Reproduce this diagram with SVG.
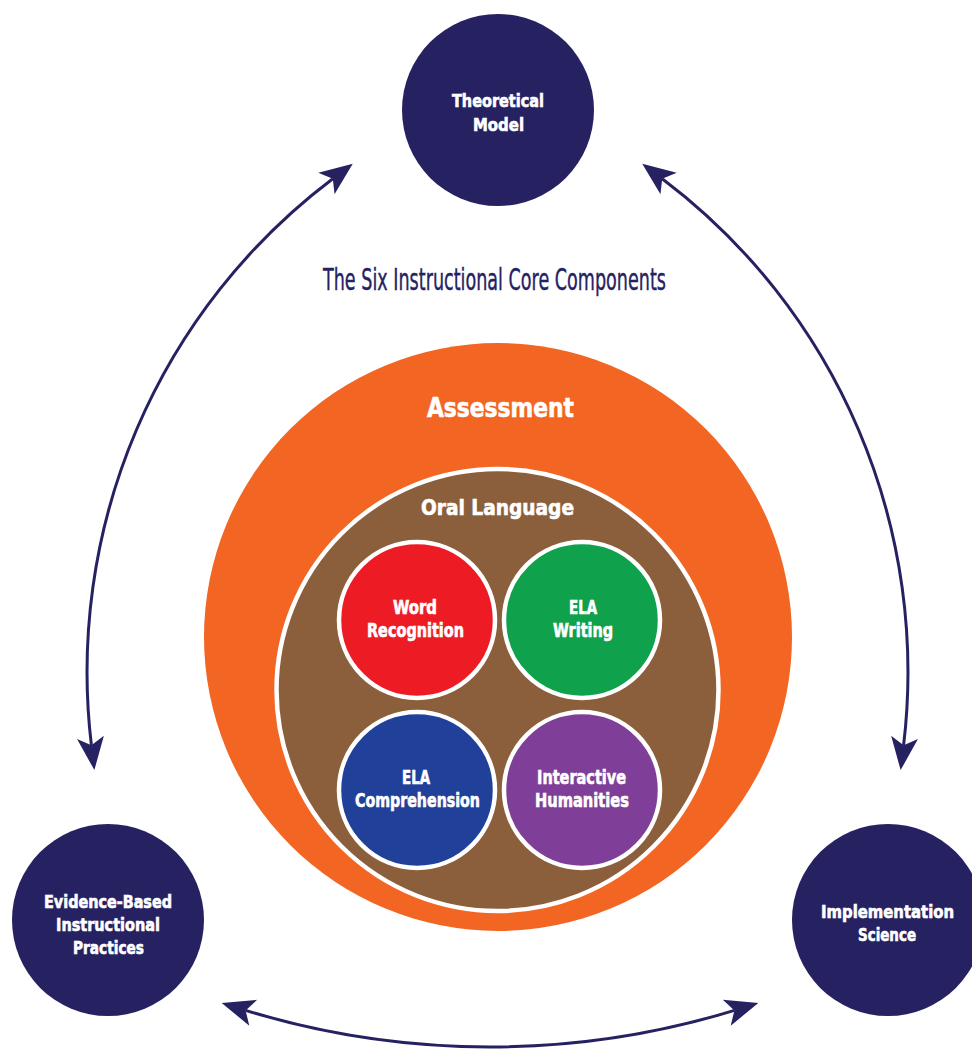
<svg xmlns="http://www.w3.org/2000/svg" width="972" height="1049" viewBox="0 0 972 1049">
  <style>
    .node { fill: #262262; }
    .lbl { font-family: "Liberation Sans Narrow", "DejaVu Sans Condensed", "Liberation Sans", sans-serif; font-weight: bold; fill: #ffffff; stroke: #ffffff; stroke-width: 0.6; text-anchor: middle; }
    .title { font-family: "Liberation Sans Narrow", "DejaVu Sans Condensed", "Liberation Sans", sans-serif; font-weight: normal; fill: #262262; stroke: #262262; stroke-width: 0.4; text-anchor: middle; }
    .conn { fill: none; stroke: #262262; stroke-width: 3; }
    .inner { stroke: #ffffff; stroke-width: 4.5; }
  </style>
  <defs>
    <marker id="ah" viewBox="-36 -16 40 32" refX="-25" refY="0" markerWidth="40" markerHeight="32" markerUnits="userSpaceOnUse" orient="auto-start-reverse" overflow="visible">
      <path d="M0,0 L-33,-13.5 L-25,0 L-33,13.5 Z" fill="#262262"/>
    </marker>
  </defs>
  <rect width="972" height="1049" fill="#ffffff"/>

  <g id="connectors">
    <path class="conn" d="M332.8,178.7 A618,618 0 0 0 91.4,745.3" marker-start="url(#ah)" marker-end="url(#ah)"/>
    <path class="conn" d="M662.2,178.7 A618,618 0 0 1 903.6,745.3" marker-start="url(#ah)" marker-end="url(#ah)"/>
    <path class="conn" d="M245.6,1010.4 A835,835 0 0 0 734.4,1010.4" marker-start="url(#ah)" marker-end="url(#ah)"/>
  </g>

  <g id="title">
    <text class="title" x="494.5" y="290" font-size="31" textLength="343" lengthAdjust="spacingAndGlyphs">The Six Instructional Core Components</text>
  </g>

  <g id="assessment">
    <circle cx="498" cy="637" r="294" fill="#F26522"/>
    <text class="lbl" x="500.5" y="417" font-size="27" textLength="147" lengthAdjust="spacingAndGlyphs">Assessment</text>
  </g>

  <g id="oral-language">
    <circle class="inner" cx="497.5" cy="690" r="221" fill="#8B5E3C"/>
    <text class="lbl" x="497.5" y="515" font-size="22" textLength="153" lengthAdjust="spacingAndGlyphs">Oral Language</text>
  </g>

  <g id="word-recognition">
    <circle class="inner" cx="417" cy="620" r="78" fill="#ED1C24"/>
    <text class="lbl" x="415" y="614" font-size="19" textLength="44" lengthAdjust="spacingAndGlyphs">Word</text>
    <text class="lbl" x="415.5" y="637" font-size="19" textLength="97" lengthAdjust="spacingAndGlyphs">Recognition</text>
  </g>

  <g id="ela-writing">
    <circle class="inner" cx="582" cy="620" r="78" fill="#0FA14B"/>
    <text class="lbl" x="583" y="614" font-size="19" textLength="28" lengthAdjust="spacingAndGlyphs">ELA</text>
    <text class="lbl" x="583" y="637" font-size="19" textLength="60" lengthAdjust="spacingAndGlyphs">Writing</text>
  </g>

  <g id="ela-comprehension">
    <circle class="inner" cx="417" cy="790" r="78" fill="#21409A"/>
    <text class="lbl" x="416" y="784" font-size="19" textLength="28" lengthAdjust="spacingAndGlyphs">ELA</text>
    <text class="lbl" x="417.5" y="807" font-size="19" textLength="125" lengthAdjust="spacingAndGlyphs">Comprehension</text>
  </g>

  <g id="interactive-humanities">
    <circle class="inner" cx="582" cy="790" r="78" fill="#7F3F98"/>
    <text class="lbl" x="581.5" y="784" font-size="19" textLength="89" lengthAdjust="spacingAndGlyphs">Interactive</text>
    <text class="lbl" x="582" y="807" font-size="19" textLength="94" lengthAdjust="spacingAndGlyphs">Humanities</text>
  </g>

  <g id="theoretical-model">
    <circle class="node" cx="498" cy="110" r="96"/>
    <text class="lbl" x="498" y="107" font-size="18" textLength="92" lengthAdjust="spacingAndGlyphs">Theoretical</text>
    <text class="lbl" x="498.5" y="131" font-size="18" textLength="51" lengthAdjust="spacingAndGlyphs">Model</text>
  </g>

  <g id="evidence-based">
    <circle class="node" cx="108" cy="920" r="96"/>
    <text class="lbl" x="108" y="908" font-size="18" textLength="128" lengthAdjust="spacingAndGlyphs">Evidence-Based</text>
    <text class="lbl" x="108" y="931" font-size="18" textLength="104" lengthAdjust="spacingAndGlyphs">Instructional</text>
    <text class="lbl" x="108.5" y="954" font-size="18" textLength="71" lengthAdjust="spacingAndGlyphs">Practices</text>
  </g>

  <g id="implementation-science">
    <circle class="node" cx="888" cy="920" r="96"/>
    <text class="lbl" x="887.5" y="918" font-size="18" textLength="133" lengthAdjust="spacingAndGlyphs">Implementation</text>
    <text class="lbl" x="887" y="941" font-size="18" textLength="58" lengthAdjust="spacingAndGlyphs">Science</text>
  </g>
</svg>
